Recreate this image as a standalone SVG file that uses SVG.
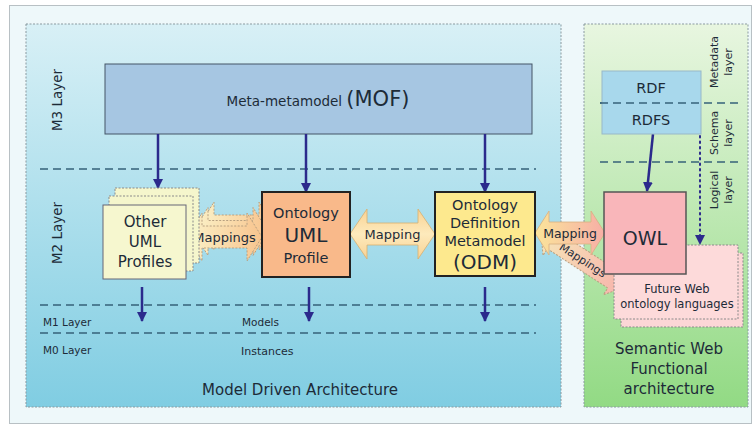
<svg xmlns="http://www.w3.org/2000/svg" width="752" height="424" viewBox="0 0 752 424">
<defs>
  <linearGradient id="gMDA" x1="0" y1="0" x2="0" y2="1">
    <stop offset="0" stop-color="#d8f0f6"/>
    <stop offset="1" stop-color="#80cde2"/>
  </linearGradient>
  <linearGradient id="gSW" x1="0" y1="0" x2="0" y2="1">
    <stop offset="0" stop-color="#e8f6e0"/>
    <stop offset="1" stop-color="#92da84"/>
  </linearGradient>
  <linearGradient id="gMapA" x1="0" y1="0" x2="1" y2="0">
    <stop offset="0" stop-color="#fbf2c8"/>
    <stop offset="1" stop-color="#f8c48e"/>
  </linearGradient>
  <linearGradient id="gMapB" x1="0" y1="0" x2="0" y2="1">
    <stop offset="0" stop-color="#f9d294"/>
    <stop offset="0.5" stop-color="#fdeabc"/>
    <stop offset="1" stop-color="#f9d294"/>
  </linearGradient>
  <linearGradient id="gMapC" x1="0" y1="0" x2="1" y2="0">
    <stop offset="0" stop-color="#fbe59a"/>
    <stop offset="1" stop-color="#f7aea6"/>
  </linearGradient>
  <linearGradient id="gMapD" x1="0" y1="0" x2="1" y2="0">
    <stop offset="0" stop-color="#f6e6b8"/>
    <stop offset="1" stop-color="#f7b4ac"/>
  </linearGradient>
  <marker id="ah" viewBox="0 0 10 10" refX="9" refY="5" markerWidth="4" markerHeight="4" orient="auto" markerUnits="strokeWidth">
    <path d="M0,0 L10,5 L0,10 Z" fill="#2b2a8c"/>
  </marker>
  <marker id="ahs" viewBox="0 0 10 10" refX="9" refY="5" markerWidth="5" markerHeight="5" orient="auto" markerUnits="strokeWidth">
    <path d="M0,0 L10,5 L0,10 Z" fill="#2b2a8c"/>
  </marker>
</defs>
<style>
  text { font-family: "DejaVu Sans", Verdana, sans-serif; fill: #1d2b38; }
  .panel { stroke: #8a9aa0; stroke-width: 1; stroke-dasharray: 2 1.5; }
  .dash { stroke: #36627a; stroke-width: 1.5; stroke-dasharray: 8 5; fill: none; }
  .arr { stroke: #2b2a8c; stroke-width: 2.5; fill: none; marker-end: url(#ah); }
  .box { stroke: #222; stroke-width: 2; }
  .dotbox { stroke: #8a8a8a; stroke-width: 1; stroke-dasharray: 2 1.5; }
  .maparr { stroke: #b8a080; stroke-width: 1; stroke-dasharray: 2 1.5; }
  .c { text-anchor: middle; }
</style>

<!-- background -->
<rect x="0" y="0" width="752" height="424" fill="#ffffff"/>
<rect x="9.5" y="5.5" width="742" height="418" fill="#eef8fa" stroke="#b8c0c4" stroke-width="1"/>

<!-- panels -->
<g id="mda-panel">
  <rect class="panel" x="26" y="24" width="535" height="383" fill="url(#gMDA)"/>
  <text class="c" x="300" y="395" font-size="15">Model Driven Architecture</text>
</g>
<g id="sw-panel">
  <rect class="panel" x="584" y="24" width="164" height="383" fill="url(#gSW)"/>
  <text class="c" x="669" y="354" font-size="15">Semantic Web</text>
  <text class="c" x="669" y="374" font-size="15">Functional</text>
  <text class="c" x="669" y="394" font-size="15">architecture</text>
</g>

<!-- layer separators and labels -->
<g id="layers">
  <line class="dash" x1="40" y1="169" x2="536" y2="169"/>
  <line class="dash" x1="40" y1="305" x2="536" y2="305"/>
  <line class="dash" x1="40" y1="333" x2="536" y2="333"/>
  <line class="dash" x1="600" y1="103" x2="740" y2="103"/>
  <line class="dash" x1="600" y1="162" x2="740" y2="162"/>
  <text class="c" transform="translate(62,100) rotate(-90)" font-size="13.5">M3 Layer</text>
  <text class="c" transform="translate(62,233) rotate(-90)" font-size="13.5">M2 Layer</text>
  <text x="43" y="326" font-size="10.5">M1 Layer</text>
  <text x="43" y="354" font-size="10.5">M0 Layer</text>
  <text x="242" y="326" font-size="10.5">Models</text>
  <text x="241" y="355" font-size="11">Instances</text>
  <text class="c" transform="translate(718,62) rotate(-90)" font-size="11">Metadata</text>
  <text class="c" transform="translate(732,62) rotate(-90)" font-size="11">layer</text>
  <text class="c" transform="translate(718,133) rotate(-90)" font-size="11">Schema</text>
  <text class="c" transform="translate(732,133) rotate(-90)" font-size="11">layer</text>
  <text class="c" transform="translate(718,190) rotate(-90)" font-size="11">Logical</text>
  <text class="c" transform="translate(732,190) rotate(-90)" font-size="11">layer</text>
</g>

<!-- nodes -->
<g id="mof">
  <rect x="105" y="64" width="427" height="70" fill="#a6c6e2" stroke="#445566" stroke-width="1"/>
  <text class="c" x="318" y="106"><tspan font-size="13.5">Meta-metamodel </tspan><tspan font-size="21">(MOF)</tspan></text>
</g>

<g id="connectors">
  <line class="arr" x1="158" y1="134" x2="158" y2="188"/>
  <line class="arr" x1="306" y1="134" x2="306" y2="192"/>
  <line class="arr" x1="485" y1="134" x2="485" y2="192"/>
  <line class="arr" x1="142" y1="287" x2="142" y2="321"/>
  <line class="arr" x1="309" y1="287" x2="309" y2="321"/>
  <line class="arr" x1="485" y1="287" x2="485" y2="321"/>
  <line class="arr" x1="653" y1="134" x2="647" y2="191"/>
  <line x1="700" y1="136" x2="700" y2="244" stroke="#2b2a8c" stroke-width="2" stroke-dasharray="1.5 4" stroke-linecap="round" marker-end="url(#ahs)"/>

  <!-- Mappings: Other UML <-> Ontology UML (stacked) -->
  <g id="map-other-uml">
    <path class="maparr" transform="translate(236.5,226)" fill="url(#gMapA)" d="M-37.5,0 L-22.5,-24 L-22.5,-11 L22.5,-11 L22.5,-24 L37.5,0 L22.5,24 L22.5,11 L-22.5,11 L-22.5,24 Z"/>
    <path class="maparr" transform="translate(230.5,231.5)" fill="url(#gMapA)" d="M-37.5,0 L-22.5,-24 L-22.5,-11 L22.5,-11 L22.5,-24 L37.5,0 L22.5,24 L22.5,11 L-22.5,11 L-22.5,24 Z"/>
    <path class="maparr" transform="translate(224.5,237)" fill="url(#gMapA)" d="M-37.5,0 L-22.5,-24 L-22.5,-11 L22.5,-11 L22.5,-24 L37.5,0 L22.5,24 L22.5,11 L-22.5,11 L-22.5,24 Z"/>
    <text class="c" x="224.5" y="242" font-size="13">Mappings</text>
  </g>

  <!-- Mapping: Ontology UML <-> ODM -->
  <g id="map-uml-odm">
    <path transform="translate(392.5,234)" fill="url(#gMapB)" stroke="#d8b070" stroke-width="0.8" d="M-42.5,0 L-25.5,-25 L-25.5,-11 L25.5,-11 L25.5,-25 L42.5,0 L25.5,25 L25.5,11 L-25.5,11 L-25.5,25 Z"/>
    <text class="c" x="392.5" y="239" font-size="13">Mapping</text>
  </g>

  <!-- Mappings: ODM <-> Future Web ontology languages -->
  <g id="map-odm-future" transform="translate(583,260) rotate(33)">
    <path class="maparr" fill="url(#gMapD)" d="M-50,0 L-36,-18 L-36,-10 L36,-10 L36,-18 L50,0 L36,18 L36,10 L-36,10 L-36,18 Z"/>
    <text class="c" x="0" y="4" font-size="11">Mappings</text>
  </g>

  <!-- Mapping: ODM <-> OWL -->
  <g id="map-odm-owl">
    <path transform="translate(570,233)" fill="url(#gMapC)" stroke="#d8b080" stroke-width="0.8" d="M-35,0 L-21,-22 L-21,-11 L21,-11 L21,-22 L35,0 L21,22 L21,11 L-21,11 L-21,22 Z"/>
    <text class="c" x="570" y="238" font-size="12.5">Mapping</text>
  </g>
</g>

<g id="other-uml-profiles">
  <rect class="dotbox" x="115" y="188" width="84" height="75" fill="#f5f6cc"/>
  <rect class="dotbox" x="109" y="196" width="84" height="75" fill="#f5f6cc"/>
  <rect x="103" y="205" width="83" height="74" fill="#f6f7cf" stroke="#667" stroke-width="1"/>
  <text class="c" x="145" y="227" font-size="15">Other</text>
  <text class="c" x="145" y="247" font-size="15">UML</text>
  <text class="c" x="145" y="267" font-size="15">Profiles</text>
</g>

<g id="ontology-uml-profile">
  <rect class="box" x="262" y="192" width="88" height="85" fill="#f9b98a"/>
  <text class="c" x="306" y="218" font-size="14.5">Ontology</text>
  <text class="c" x="306" y="242" font-size="20">UML</text>
  <text class="c" x="306" y="263" font-size="14.5">Profile</text>
</g>

<g id="odm">
  <rect class="box" x="435" y="192" width="100" height="84" fill="#fde98e"/>
  <text class="c" x="485" y="210" font-size="14.5">Ontology</text>
  <text class="c" x="485" y="228" font-size="14.5">Definition</text>
  <text class="c" x="485" y="246" font-size="14.5">Metamodel</text>
  <text class="c" x="485" y="269" font-size="20">(ODM)</text>
</g>

<g id="rdf-rdfs">
  <rect x="602" y="71" width="99" height="63" fill="#a8d8ec" stroke="#98b8c8" stroke-width="1"/>
  <line x1="600" y1="103" x2="703" y2="103" stroke="#36627a" stroke-width="1.5" stroke-dasharray="8 5"/>
  <text class="c" x="651" y="93" font-size="14.5">RDF</text>
  <text class="c" x="651" y="125" font-size="14.5">RDFS</text>
</g>

<g id="future-web">
  <rect class="dotbox" x="621" y="253" width="122" height="74" fill="#fcd6d6" stroke="#c08888"/>
  <rect class="dotbox" x="614" y="245" width="124" height="74" fill="#fddada" stroke="#c08888"/>
  <text class="c" x="677" y="293" font-size="11.5">Future Web</text>
  <text class="c" x="677" y="308" font-size="11.5">ontology languages</text>
</g>

<g id="owl">
  <rect x="604" y="192" width="82" height="82" fill="#f9b6ba" stroke="#555" stroke-width="1.5"/>
  <text class="c" x="645" y="245" font-size="19">OWL</text>
</g>
</svg>
